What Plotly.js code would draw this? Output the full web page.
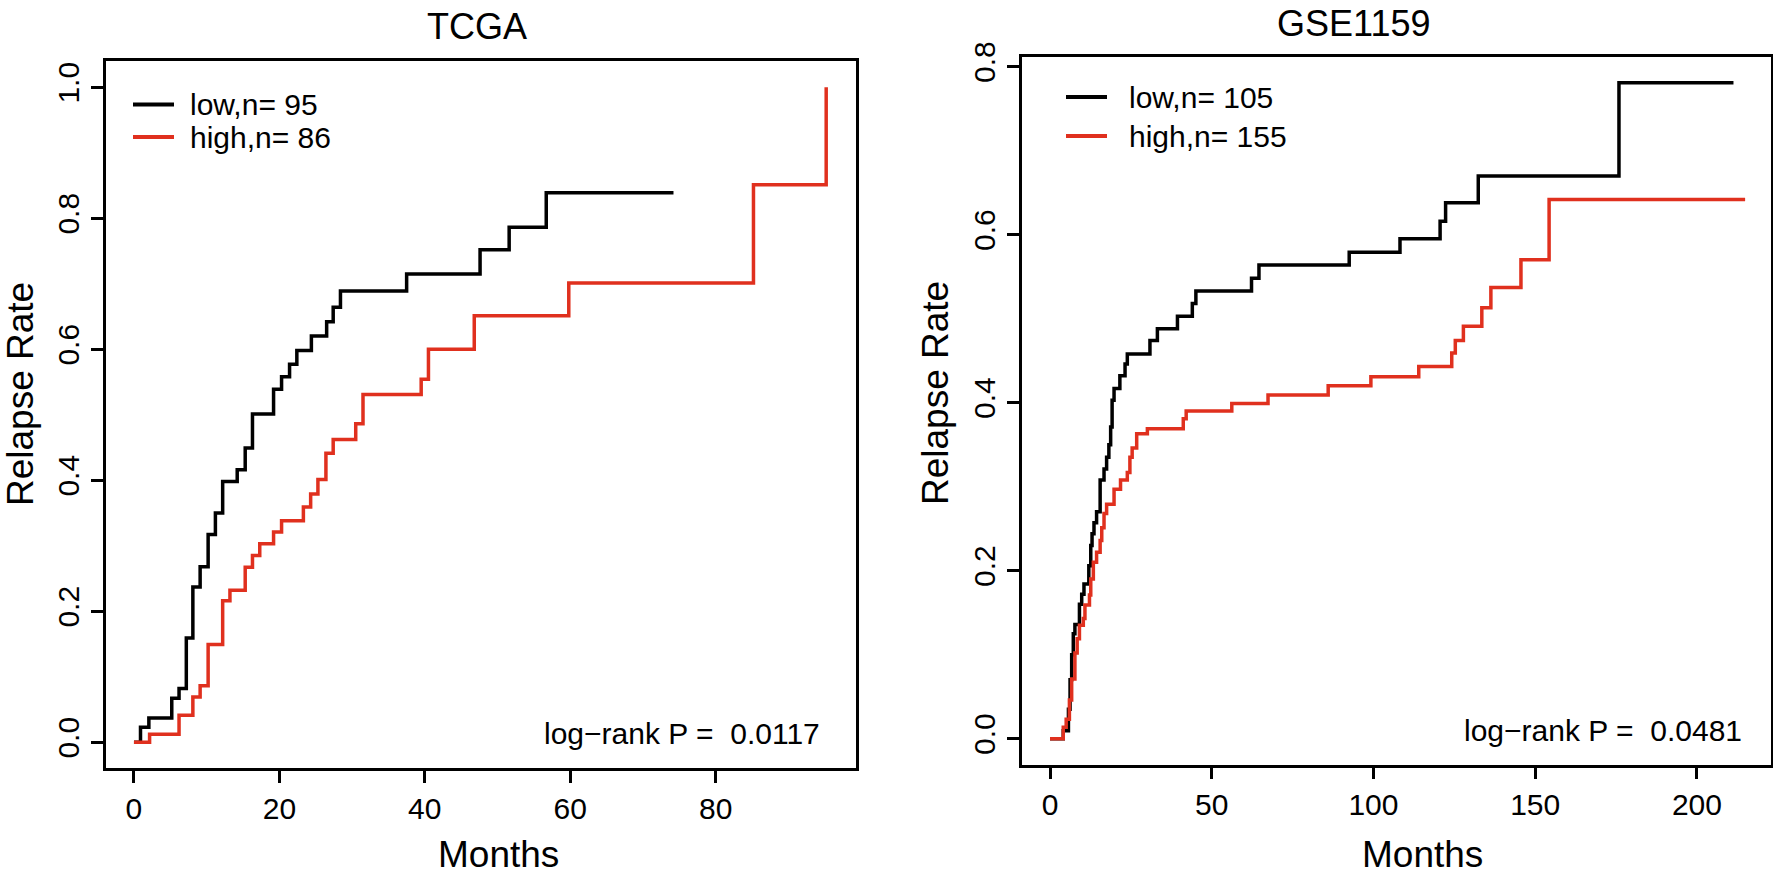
<!DOCTYPE html>
<html>
<head>
<meta charset="utf-8">
<script src="https://cdn.plot.ly/plotly-3.0.1.min.js"></script>
<style>
  html, body { margin: 0; padding: 0; background: #ffffff; }
  #grafico { width: 1773px; height: 878px; }
</style>
</head>
<body>
<div id="grafico"></div>
<script>
// Curvas de recaída acumulada (Kaplan-Meier invertida)
// ---- TCGA ----
const tcgaLowT  = [0, 0.9, 2.05, 5.2, 6.2, 7.2, 8.1, 9.1, 10.2, 11.2, 12.2, 14.2, 15.3, 16.3, 19.2, 20.3, 21.4, 22.4, 24.4, 26.5, 27.4, 28.4, 37.5, 47.6, 51.6, 56.7, 74.2];
const tcgaLowR  = [0, 0.023, 0.037, 0.067, 0.082, 0.159, 0.237, 0.268, 0.317, 0.350, 0.398, 0.416, 0.449, 0.501, 0.539, 0.558, 0.577, 0.598, 0.620, 0.642, 0.664, 0.689, 0.715, 0.752, 0.786, 0.839, 0.839];
const tcgaHighT = [0, 2.15, 6.2, 8.1, 9.1, 10.2, 12.2, 13.2, 15.3, 16.3, 17.3, 19.2, 20.3, 23.3, 24.3, 25.3, 26.4, 27.4, 30.5, 31.5, 39.5, 40.5, 46.8, 59.8, 85.2, 95.2];
const tcgaHighR = [0, 0.012, 0.041, 0.069, 0.086, 0.149, 0.216, 0.232, 0.267, 0.285, 0.303, 0.321, 0.338, 0.359, 0.379, 0.401, 0.441, 0.462, 0.486, 0.531, 0.554, 0.600, 0.651, 0.701, 0.851, 1.0];

// ---- GSE1159 ----
const gseLowT  = [0, 4.1, 5.7, 6.2, 6.7, 7.2, 7.7, 9.1, 9.8, 10.5, 12.0, 12.6, 13.0, 13.6, 14.4, 15.5, 16.7, 17.5, 18.2, 18.75, 19.2, 19.8, 21.6, 23.2, 23.9, 30.9, 33.2, 39.4, 44.0, 45.1, 62.3, 64.6, 92.5, 108.2, 120.6, 122.3, 132.4, 175.9, 211.3];
const gseLowR  = [0, 0.0095, 0.035, 0.07, 0.10, 0.125, 0.136, 0.160, 0.172, 0.184, 0.206, 0.23, 0.244, 0.257, 0.270, 0.308, 0.321, 0.335, 0.350, 0.371, 0.403, 0.417, 0.432, 0.446, 0.458, 0.474, 0.488, 0.503, 0.518, 0.533, 0.548, 0.564, 0.579, 0.595, 0.616, 0.638, 0.670, 0.781, 0.781];
const gseHighT = [0, 4.1, 5.0, 6.0, 6.7, 7.7, 8.4, 9.1, 10.3, 10.8, 12.2, 12.6, 13.4, 14.4, 15.5, 16.0, 16.7, 17.5, 19.8, 21.8, 23.9, 24.7, 25.4, 26.8, 30.1, 41.2, 42.1, 56.2, 67.4, 86.0, 99.2, 114.0, 124.2, 125.3, 127.8, 133.5, 136.3, 145.6, 154.3, 214.9];
const gseHighR = [0, 0.0135, 0.023, 0.046, 0.071, 0.102, 0.119, 0.135, 0.143, 0.159, 0.171, 0.19, 0.21, 0.222, 0.236, 0.251, 0.268, 0.279, 0.297, 0.308, 0.317, 0.335, 0.346, 0.363, 0.369, 0.381, 0.390, 0.399, 0.409, 0.420, 0.431, 0.443, 0.459, 0.474, 0.491, 0.513, 0.537, 0.570, 0.642, 0.642];

// Textos
const titulos = ['TCGA', 'GSE1159'];
const leyendaTCGA = ['low,n= 95', 'high,n= 86'];
const leyendaGSE = ['low,n= 105', 'high,n= 155'];
const pValores = ['0.0117', '0.0481'];
const ticksTCGA = [0, 20, 40, 60, 80];
const ticksGSE = [0, 50, 100, 150, 200];
const ticksY = [0, 0.2, 0.4, 0.6, 0.8, 1.0];

const W = 1773, H = 878;
const NEGRO = '#000000';
const ROJO = '#E0301E';
const FUENTE = 'Liberation Sans, Arial, Helvetica, sans-serif';

// píxeles -> coordenadas de papel
const px = v => v / W;
const py = v => 1 - v / H;

function curva(x, y, color, xa, ya) {
    return {
        x: x, y: y, xaxis: xa, yaxis: ya,
        type: 'scatter', mode: 'lines',
        line: { color: color, width: 3.5, shape: 'hv' },
        hoverinfo: 'x+y', showlegend: false
    };
}

const data = [
    curva(tcgaLowT, tcgaLowR, NEGRO, 'x', 'y'),
    curva(tcgaHighT, tcgaHighR, ROJO, 'x', 'y'),
    curva(gseLowT, gseLowR, NEGRO, 'x2', 'y2'),
    curva(gseHighT, gseHighR, ROJO, 'x2', 'y2')
];

const ejeBase = {
    showline: true, mirror: true, linecolor: NEGRO, linewidth: 2.5,
    showgrid: false, zeroline: false,
    ticks: 'outside', ticklen: 12, tickwidth: 2.5, tickcolor: NEGRO,
    tickfont: { family: FUENTE, size: 30, color: NEGRO },
    fixedrange: true
};

function texto(t, x, y, size, extra) {
    return Object.assign({
        text: t, x: px(x), y: py(y), xref: 'paper', yref: 'paper',
        showarrow: false, xanchor: 'center', yanchor: 'middle',
        font: { family: FUENTE, size: size, color: NEGRO }
    }, extra || {});
}

function lineaLeyenda(x0, x1, y, color) {
    return {
        type: 'line', xref: 'paper', yref: 'paper',
        x0: px(x0), x1: px(x1), y0: py(y), y1: py(y),
        line: { color: color, width: 4 }
    };
}

const layout = {
    width: W, height: H,
    margin: { l: 0, r: 0, t: 0, b: 0 },
    paper_bgcolor: '#ffffff',
    plot_bgcolor: '#ffffff',
    showlegend: false,
    xaxis: Object.assign({}, ejeBase, {
        domain: [px(105.6), px(856)], range: [-3.9, 99.3],
        tickvals: ticksTCGA, anchor: 'y'
    }),
    yaxis: Object.assign({}, ejeBase, {
        domain: [py(768.4), py(61)], range: [-0.04, 1.04],
        tickvals: ticksY, tickformat: '.1f', tickangle: -90, anchor: 'x'
    }),
    xaxis2: Object.assign({}, ejeBase, {
        domain: [px(1021.7), px(1771)], range: [-8.75, 222.9],
        tickvals: ticksGSE, anchor: 'y2'
    }),
    yaxis2: Object.assign({}, ejeBase, {
        domain: [py(764.7), py(56.6)], range: [-0.031, 0.812],
        tickvals: ticksY.slice(0, 5), tickformat: '.1f', tickangle: -90, anchor: 'x2'
    }),
    annotations: [
        texto(titulos[0], 477, 26.5, 36),
        texto(titulos[1], 1353, 23, 36),
        texto('Months', 499, 877, 37, { yanchor: 'bottom' }),
        texto('Months', 1422, 877, 37, { yanchor: 'bottom' }),
        texto('Relapse Rate', 20, 394, 37, { textangle: -90 }),
        texto('Relapse Rate', 936, 393, 37, { textangle: -90 }),
        texto(leyendaTCGA[0], 188, 104.5, 30, { xanchor: 'left' }),
        texto(leyendaTCGA[1], 188, 137, 30, { xanchor: 'left' }),
        texto(leyendaGSE[0], 1127, 97, 30, { xanchor: 'left' }),
        texto(leyendaGSE[1], 1127, 136, 30, { xanchor: 'left' }),
        texto('log\u2212rank P =\u00a0 ' + pValores[0], 822, 733, 30, { xanchor: 'right' }),
        texto('log\u2212rank P =\u00a0 ' + pValores[1], 1744, 730, 30, { xanchor: 'right' })
    ],
    shapes: [
        lineaLeyenda(133, 174, 104.5, NEGRO),
        lineaLeyenda(133, 174, 137, ROJO),
        lineaLeyenda(1066, 1107, 97, NEGRO),
        lineaLeyenda(1066, 1107, 136, ROJO)
    ]
};

const config = { displayModeBar: false, responsive: false };

Plotly.newPlot('grafico', data, layout, config);
</script>
</body>
</html>
